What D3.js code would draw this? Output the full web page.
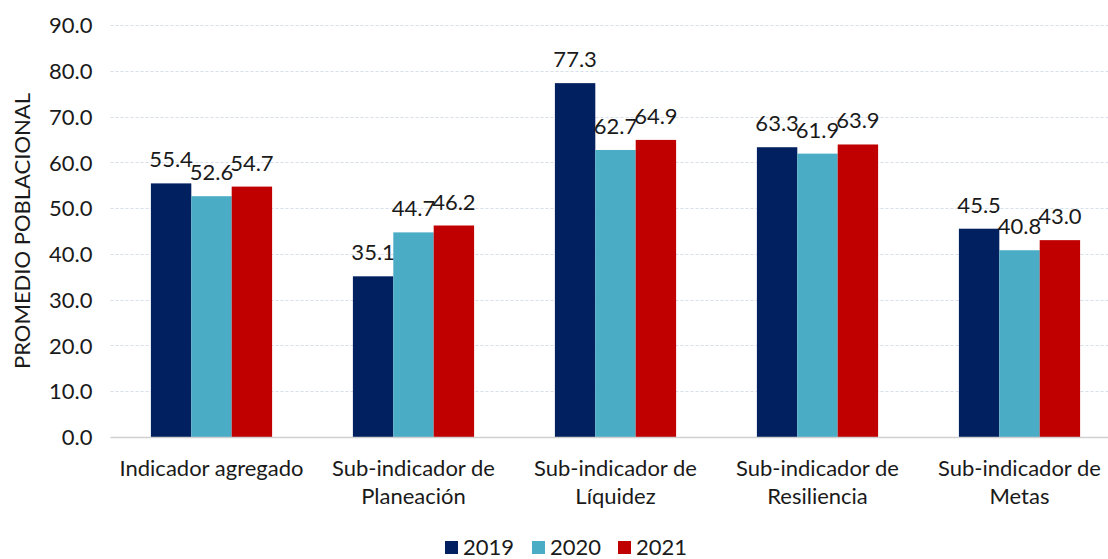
<!DOCTYPE html>
<html>
<head>
<meta charset="utf-8">
<script src="https://cdn.jsdelivr.net/npm/d3@7"></script>
<style>
  body { margin: 0; background: #fff; }
  svg text { font-family: Lato, "Open Sans", sans-serif; fill: #1a1a1a; }
</style>
</head>
<body>
<svg id="chart" width="1108" height="559"></svg>
<script>
// Categories (each label split into display lines)
const categories = [
  ["Indicador agregado"],
  ["Sub-indicador de", "Planeación"],
  ["Sub-indicador de", "Líquidez"],
  ["Sub-indicador de", "Resiliencia"],
  ["Sub-indicador de", "Metas"]
];
const years = ["2019", "2020", "2021"];
const values2019 = [55.4, 35.1, 77.3, 63.3, 45.5];
const values2020 = [52.6, 44.7, 62.7, 61.9, 40.8];
const values2021 = [54.7, 46.2, 64.9, 63.9, 43.0];
const yTicks = [0, 10, 20, 30, 40, 50, 60, 70, 80, 90];
const colors = ["#002060", "#4BACC6", "#C00000"];
const axisTitle = "PROMEDIO POBLACIONAL";

const series = [values2019, values2020, values2021];
const svg = d3.select("#chart");
const fontSize = "22px";

const plotLeft = 110.5, plotRight = 1120.5, plotTop = 25, plotBottom = 437;

const x0 = d3.scaleBand()
  .domain(d3.range(categories.length))
  .range([plotLeft, plotRight])
  .paddingInner(0.4)
  .paddingOuter(0.2);
const x1 = d3.scaleBand()
  .domain(d3.range(years.length))
  .range([0, x0.bandwidth()]);
const y = d3.scaleLinear().domain([0, 90]).range([plotBottom, plotTop]);

// Horizontal gridlines
svg.append("g")
  .selectAll("line")
  .data(yTicks.filter(t => t > 0))
  .join("line")
  .attr("x1", plotLeft).attr("x2", 1108)
  .attr("y1", d => Math.round(y(d)) + 0.5).attr("y2", d => Math.round(y(d)) + 0.5)
  .attr("stroke", "#d6dfea")
  .attr("stroke-width", 1)
  .attr("stroke-dasharray", "3,2");

// Y axis tick labels
const yAxis = d3.axisLeft(y).tickValues(yTicks).tickFormat(d3.format(".1f")).tickSize(0).tickPadding(18);
const gy = svg.append("g").attr("transform", `translate(${plotLeft},0)`).call(yAxis);
gy.select(".domain").remove();
gy.selectAll("text").style("font-size", fontSize).attr("dy", "0.35em")
  .style("font-family", "Lato, 'Open Sans', sans-serif").attr("fill", "#1a1a1a");

// Bars
const groups = svg.append("g")
  .selectAll("g")
  .data(categories.map((c, i) => i))
  .join("g")
  .attr("transform", i => `translate(${x0(i)},0)`);

groups.selectAll("rect")
  .data(i => series.map((s, k) => ({ k, v: s[i] })))
  .join("rect")
  .attr("x", d => x1(d.k))
  .attr("width", x1.bandwidth())
  .attr("y", d => y(d.v))
  .attr("height", d => y(0) - y(d.v))
  .attr("fill", d => colors[d.k]);

// Value labels
groups.selectAll("text.val")
  .data(i => series.map((s, k) => ({ k, v: s[i] })))
  .join("text")
  .attr("class", "val")
  .attr("x", d => x1(d.k) + x1.bandwidth() / 2)
  .attr("y", d => y(d.v) - 16)
  .attr("text-anchor", "middle")
  .style("font-size", fontSize)
  .text(d => d.v.toFixed(1));

// X axis baseline
svg.append("line")
  .attr("x1", plotLeft).attr("x2", 1108)
  .attr("y1", plotBottom + 0.5).attr("y2", plotBottom + 0.5)
  .attr("stroke", "#d0d0d0").attr("stroke-width", 1.5);

// Category labels
const catLabels = svg.append("g")
  .selectAll("text")
  .data(categories)
  .join("text")
  .attr("x", (d, i) => x0(i) + x0.bandwidth() / 2)
  .attr("y", 476)
  .attr("text-anchor", "middle")
  .style("font-size", fontSize);
catLabels.selectAll("tspan")
  .data(d => d)
  .join("tspan")
  .attr("x", function () { return d3.select(this.parentNode).attr("x"); })
  .attr("dy", (d, j) => j === 0 ? 0 : 28)
  .text(d => d);

// Y axis title
svg.append("text")
  .attr("transform", `translate(30,${(plotTop + plotBottom) / 2}) rotate(-90)`)
  .attr("text-anchor", "middle")
  .style("font-size", fontSize)
  .text(axisTitle);

// Legend
const legendItems = [
  { x: 445, label: years[0] },
  { x: 532, label: years[1] },
  { x: 618, label: years[2] }
];
const lg = svg.append("g");
legendItems.forEach((it, k) => {
  lg.append("rect").attr("x", it.x).attr("y", 541).attr("width", 13).attr("height", 13).attr("fill", colors[k]);
  lg.append("text").attr("x", it.x + 18).attr("y", 555).style("font-size", fontSize).text(it.label);
});
</script>
</body>
</html>
